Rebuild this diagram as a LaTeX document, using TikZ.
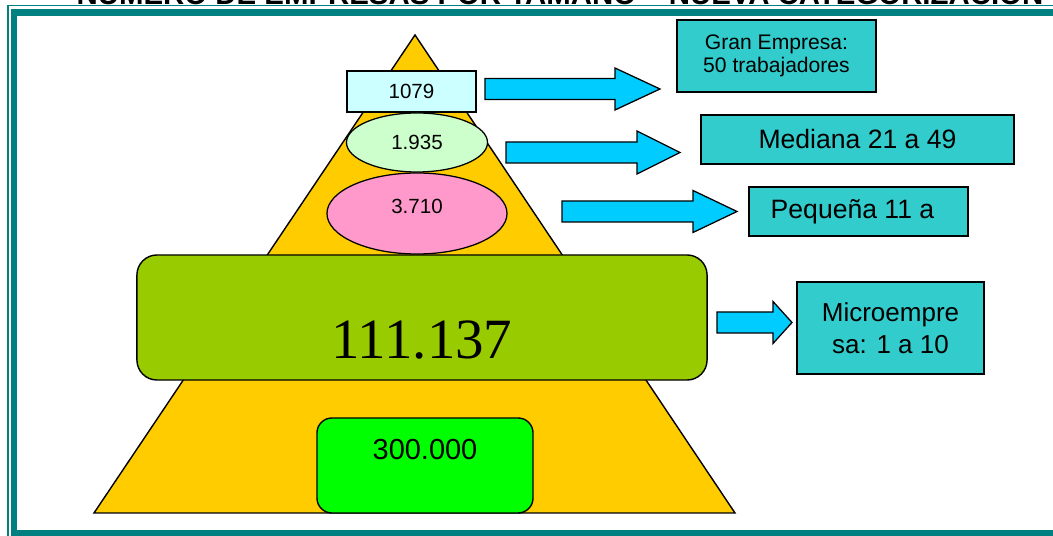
\documentclass[tikz,border=0pt]{standalone}
\usepackage{fontspec}
\setmainfont{Liberation Sans}
\newfontfamily\tiempos{Liberation Serif}
\usetikzlibrary{shapes.geometric,calc}

\definecolor{marco}{HTML}{008080}
\definecolor{turquesa}{HTML}{33CCCC}
\definecolor{celeste}{HTML}{00CCFF}
\definecolor{piramide}{HTML}{FFCC00}
\definecolor{cielo}{HTML}{CCFFFF}
\definecolor{menta}{HTML}{CCFFCC}
\definecolor{rosa}{HTML}{FF99CC}
\definecolor{oliva}{HTML}{99CC00}
\definecolor{verde}{HTML}{00FF00}

\tikzset{
  caja/.style={draw=black, line width=1.2pt, fill=turquesa, inner sep=0pt, align=center},
  globo/.style={ellipse, draw=black, line width=0.9pt, inner sep=0pt, font=\fontsize{14.6}{17}\selectfont},
  bloque/.style={draw=black, line width=0.9pt, fill=celeste, line join=miter},
}

% block arrow: start, tip, head length, half shaft, half head
\newcommand{\flecha}[5]{%
  \draw[bloque] (#1) ++(0,-#4) -- ($(#2)+(-#3,-#4)$) -- ($(#2)+(-#3,-#5)$) -- (#2)
    -- ($(#2)+(-#3,#5)$) -- ($(#2)+(-#3,#4)$) -- ($(#1)+(0,#4)$) -- cycle;}

\begin{document}
\begin{tikzpicture}[x=0.025cm,y=-0.025cm]
\useasboundingbox (0,0) rectangle (1053,536);
\clip (0,0) rectangle (1053,536);

% frame and title
\draw[marco, line width=1pt] (8,5.5) rectangle (1070,560);
\draw[marco, line width=4.6pt] (14,12.5) rectangle (1063,533.5);
\node[anchor=base, inner sep=0pt, font=\bfseries\fontsize{20.9}{24}\selectfont] (titulo) at (560,4.5)
  {NÚMERO DE EMPRESAS POR TAMAÑO – NUEVA CATEGORIZACIÓN};

% pyramid
\draw[fill=piramide, line width=1pt] (415,35) -- (735,513) -- (94,513) -- cycle;

\node[draw=black, line width=0.9pt, fill=cielo, inner sep=0pt, minimum width=3.225cm, minimum height=1.025cm,
  font=\fontsize{14.6}{17}\selectfont] (n1079) at (411.5,91.5) {1079};
\node[globo, fill=menta, minimum width=3.525cm, minimum height=1.475cm] (n1935) at (417,142.5) {1.935};
\node[globo, fill=rosa, minimum width=4.5cm, minimum height=2.025cm, text height=0pt, text depth=0pt]
  (n3710) at (417,213.5) {3.710};
\node[draw=black, line width=1pt, fill=oliva, rounded corners=0.5cm, inner sep=0pt,
  minimum width=14.25cm, minimum height=3.125cm, text height=2.025cm, text depth=0pt,
  font=\tiempos\fontsize{40.5}{44}\selectfont] (n111) at (422,317.5) {111.137};
\node[draw=black, line width=1pt, fill=verde, rounded corners=0.375cm, inner sep=0pt,
  minimum width=5.4cm, minimum height=2.375cm, text height=0pt, text depth=0.275cm,
  font=\fontsize{20.6}{24}\selectfont] (n300) at (425,465.5) {300.000};

% categories
\node[caja, minimum width=4.975cm, minimum height=1.8cm, font=\fontsize{15}{16.4}\selectfont]
  (gran) at (776.5,56) {Gran Empresa:\\50 trabajadores};
\node[caja, minimum width=7.825cm, minimum height=1.225cm, font=\fontsize{18.9}{22}\selectfont]
  (mediana) at (857.5,139.5) {Mediana 21 a 49};
\node[caja, minimum width=5.475cm, minimum height=1.225cm, font=\fontsize{18.9}{22}\selectfont]
  (pequena) at (858.5,211.5) {Pequeña 11 a\hspace{0.3cm}};
\node[caja, minimum width=4.675cm, minimum height=2.3cm, font=\fontsize{18.5}{22.8}\selectfont]
  (micro) at (890.5,328) {Microempre\\sa: 1 a 10};

% arrows
\coordinate (f1a) at (485,89);    \coordinate (f1b) at (660,89);
\coordinate (f2a) at (506,152.5); \coordinate (f2b) at (680,152.5);
\coordinate (f3a) at (562,211.5); \coordinate (f3b) at (737,211.5);
\coordinate (f4a) at (717,322.5); \coordinate (f4b) at (792,322.5);
\flecha{f1a}{f1b}{45}{10.5}{21}
\flecha{f2a}{f2b}{43}{10.5}{21.5}
\flecha{f3a}{f3b}{44}{10.5}{21}
\flecha{f4a}{f4b}{19}{10.5}{21}
\end{tikzpicture}
\end{document}
